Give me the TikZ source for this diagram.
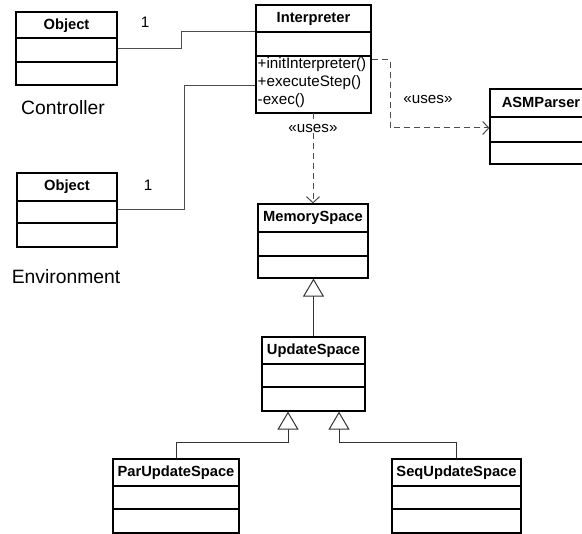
\documentclass[tikz,border=0pt]{standalone}
\usepackage{fontspec}
\setmainfont{Liberation Sans}
\usetikzlibrary{arrows.meta,calc}
\begin{document}
\begin{tikzpicture}[x=1pt,y=-1pt,
  classbox/.style={draw=black,line width=1.2pt,inner sep=0pt,fill=white},
  cname/.style={font=\fontsize{14.7}{16}\selectfont\bfseries,inner sep=0pt},
  ctext/.style={font=\fontsize{15.2}{16}\selectfont,inner sep=0pt},
  biglabel/.style={font=\fontsize{19.3}{21}\selectfont,inner sep=0pt},
  sep/.style={draw=black,line width=1.2pt},
  assoc/.style={draw=black!70,line width=1pt},
  dep/.style={draw=black!70,line width=1pt,dash pattern=on 6pt off 4pt,-{Straight Barb[length=6pt,width=13pt]}},
  inh/.style={draw=black!80,line width=1pt,-{Triangle[open,length=18pt,width=21pt,fill=white]}}
]
\useasboundingbox (0,0) rectangle (582,534);

% class helper: name, left, top, right, bottom, sep1, sep2, title
\newcommand{\umlclass}[8]{%
  \node[classbox,minimum width={#4-#2},minimum height={#5-#3}] (#1) at ({(#2+#4)/2},{(#3+#5)/2}) {};
  \node[cname] (#1T) at ({(#2+#4)/2},{#3+13.5}) {#8};
  \draw[sep] (#2,#6) -- (#4,#6);
  \draw[sep] (#2,#7) -- (#4,#7);
}

\umlclass{objc}{16}{12}{117}{85}{38}{62}{Object}
\umlclass{envobj}{17}{173}{117}{247}{201}{223}{Object}
\umlclass{interp}{256}{5}{371}{113}{32}{56}{Interpreter}
\umlclass{asm}{490}{89}{592}{164}{117}{142}{ASMParser}
\umlclass{memsp}{258}{204}{368}{278}{232}{256}{MemorySpace}
\umlclass{upd}{262}{337}{365}{411}{364}{387}{UpdateSpace}
\umlclass{par}{113}{459}{239}{533}{486}{509}{ParUpdateSpace}
\umlclass{seq}{392}{459}{521}{533}{486}{509}{SeqUpdateSpace}

% methods
\node[ctext,anchor=west] (m1) at (257.5,65) {+initInterpreter()};
\node[ctext,anchor=west] (m2) at (257.5,83) {+executeStep()};
\node[ctext,anchor=west] (m3) at (257.5,100.5) {-exec()};

% labels
\node[biglabel] (lctrl) at (63,108) {Controller};
\node[biglabel] (lenv) at (66,277) {Environment};
\node[ctext] (one1) at (145,22) {1};
\node[ctext] (one2) at (148,185) {1};
\node[ctext] (uses1) at (428,99) {«uses»};

% associations
\coordinate (c1) at (181,32);
\draw[assoc] (objc.east) -| (c1) -- (c1 -| interp.west);
\coordinate (c2) at (184,86);
\draw[assoc] (envobj.east) -| (c2) -- (c2 -| interp.west);

% dependencies
\coordinate (d1) at (390,60);
\coordinate (d2) at (390,128);
\draw[dep] (d1 -| interp.east) -- (d1) -- (d2) -- (d2 -| asm.west);
\coordinate (d3) at (313,113);
\draw[dep] (d3) -- (d3 |- memsp.north);
\node[ctext,fill=white,inner sep=1pt] (uses2) at (313,128) {«uses»};

% generalisations
\draw[inh] (upd.north) -- (upd.north |- memsp.south);
\coordinate (b1) at (288,443);
\draw[inh] (par.north) |- (b1) -- (b1 |- upd.south);
\coordinate (b2) at (339,443);
\draw[inh] (seq.north) |- (b2) -- (b2 |- upd.south);
\end{tikzpicture}
\end{document}
